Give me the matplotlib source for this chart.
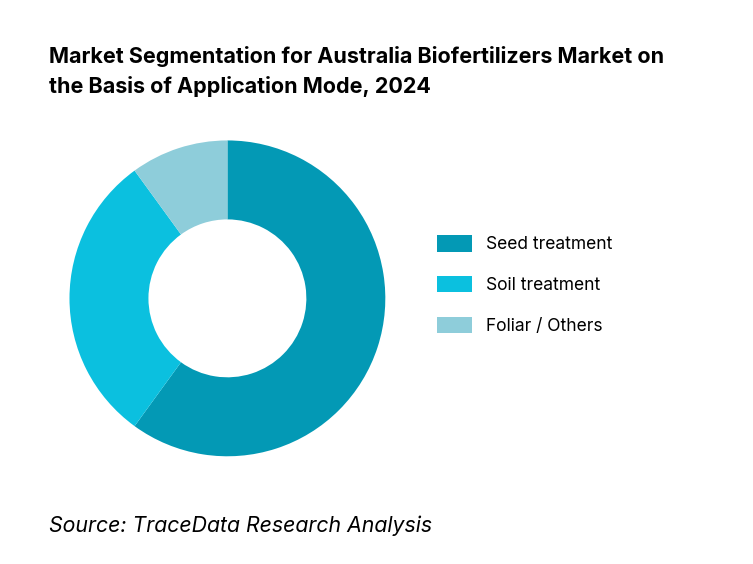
import matplotlib.pyplot as plt

plt.rcParams['font.family'] = 'Inter'

labels = ['Seed treatment', 'Soil treatment', 'Foliar / Others']
shares = [60, 30, 10]
colors = ['#0399B5', '#0BC0DF', '#8ECDDA']

fig = plt.figure(figsize=(7.53, 5.64), dpi=100)

ax = fig.add_axes([0.092, 0.191, 0.42, 0.56])
wedges, _ = ax.pie(shares, colors=colors, startangle=90, counterclock=False,
                   wedgeprops=dict(width=0.5, edgecolor='none'))
ax.set_aspect('equal')
ax.set_xlim(-1, 1)
ax.set_ylim(-1, 1)

fig.legend(wedges, labels, loc='center left', bbox_to_anchor=(0.56, 0.495),
           frameon=False, fontsize=12.5, handlelength=2.0, handleheight=1.1,
           labelspacing=1.3, handletextpad=0.8)

fig.text(0.065, 0.918, 'Market Segmentation for Australia Biofertilizers Market on\nthe Basis of Application Mode, 2024',
         fontsize=15.5, fontweight='bold', va='top', linespacing=1.5)
fig.text(0.065, 0.05, 'Source: TraceData Research Analysis', fontsize=15.3,
         style='italic', va='bottom')

plt.savefig('out.png', dpi=100)
